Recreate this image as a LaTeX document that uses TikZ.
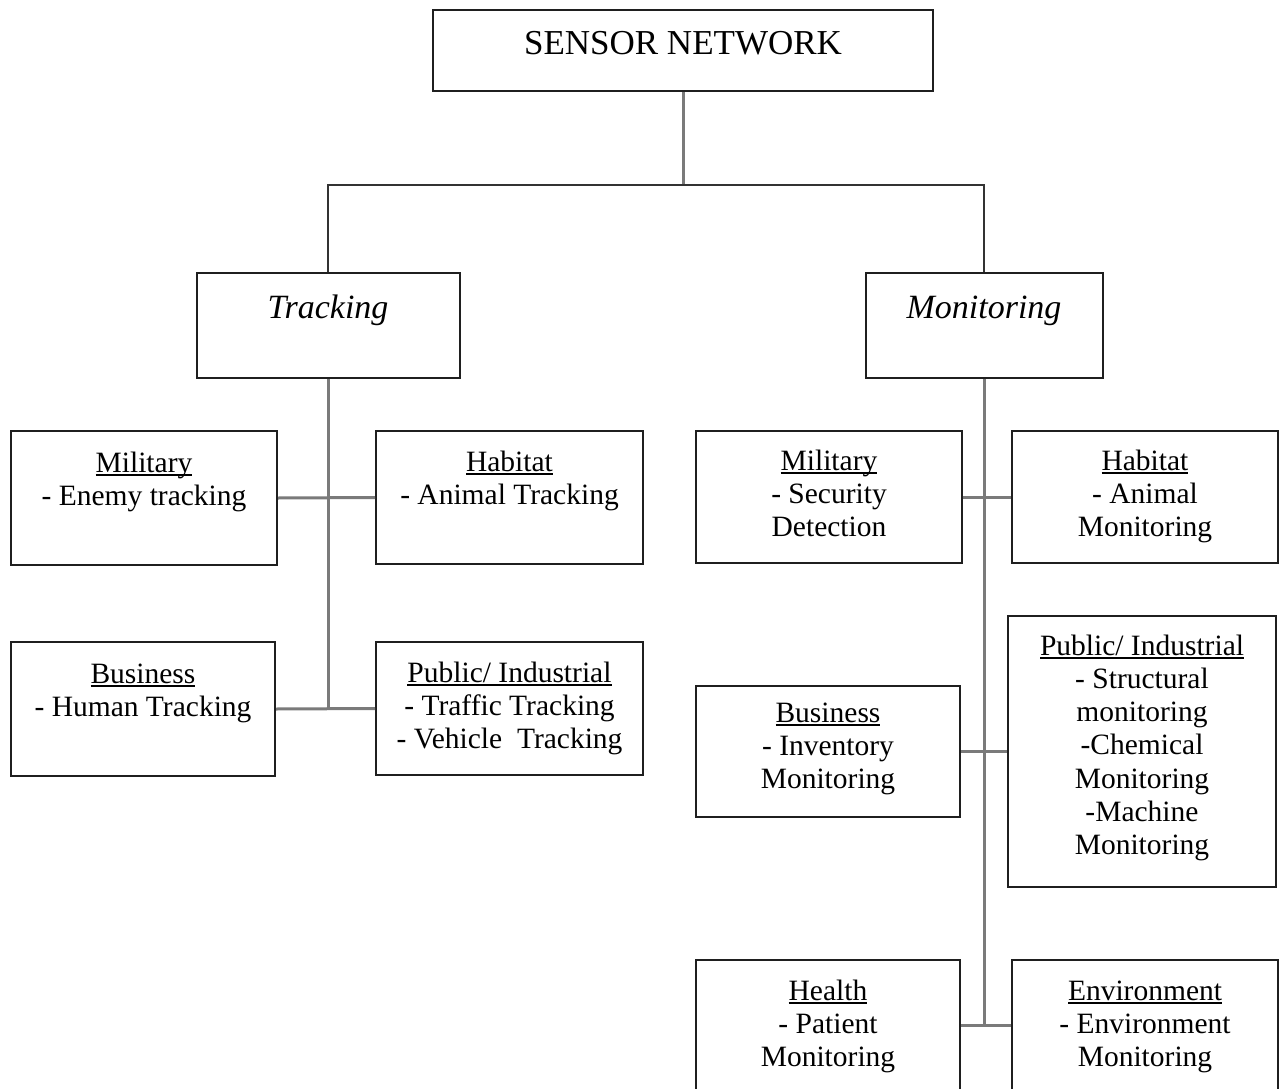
\documentclass[tikz,border=0pt]{standalone}
\usepackage{fontspec}
\setmainfont{Liberation Serif}

% underlined heading with a thin rule just below the baseline
\newcommand\ulhead[1]{\setbox0=\hbox{#1}\rlap{\rule[-3.6pt]{\wd0}{1.8pt}}\box0}
% centred stack of lines whose baseline is the first line's
\newcommand\lines[1]{\begin{tabular}[t]{@{}c@{}}#1\end{tabular}}

\tikzset{
  box/.style={draw=black!88, line width=2pt, inner sep=0pt},
  link/.style={draw=black!52, line width=3pt},
  bar/.style={draw=black!80, line width=2.2pt},
  bodytext/.style={inner sep=0pt, anchor=base, font=\fontsize{29.5}{33.3}\selectfont},
  headtext/.style={inner sep=0pt, anchor=base, font=\fontsize{34}{40}\selectfont\itshape},
}

\begin{document}
\begin{tikzpicture}[x=1pt, y=-1pt]
\clip (0,0) rectangle (1285,1089);
\fill[white] (0,0) rectangle (1285,1089);

% ---- boxes ----
\node[box, minimum width=500, minimum height=81]  (top)  at (683,50.5)   {};
\node[box, minimum width=263, minimum height=105] (trk)  at (328,325.5)  {};
\node[box, minimum width=237, minimum height=105] (mon)  at (984,325.5)  {};

\node[box, minimum width=266, minimum height=134] (tmil) at (144,498)    {};
\node[box, minimum width=267, minimum height=133] (thab) at (509.5,497.5){};
\node[box, minimum width=264, minimum height=134] (tbus) at (143,709)    {};
\node[box, minimum width=267, minimum height=133] (tpub) at (509.5,708.5){};

\node[box, minimum width=266, minimum height=132] (mmil) at (829,497)    {};
\node[box, minimum width=266, minimum height=132] (mhab) at (1145,497)   {};
\node[box, minimum width=264, minimum height=131] (mbus) at (828,751.5)  {};
\node[box, minimum width=268, minimum height=271] (mpub) at (1142,751.5) {};
\node[box, minimum width=264, minimum height=160] (hea)  at (828,1040)   {};
\node[box, minimum width=266, minimum height=160] (env)  at (1145,1040)  {};

% ---- connectors ----
\coordinate (split) at (683,185);
\coordinate (tend)  at (328,709);
\coordinate (mend)  at (984,1025);

\draw[link] (top.south) -- (split);
\draw[bar] (trk.north) |- (split) -| (mon.north);

\draw[link] (trk.south) -- (tend);
\draw[link] (tmil.east) -- (thab.west);
\draw[link] (tbus.east) -- (tpub.west);

\draw[link] (mon.south) -- (mend);
\draw[link] (mmil.east) -- (mhab.west);
\draw[link] (mbus.east) -- (mpub.west);
\draw[link] (mend -| hea.east) -- (mend -| env.west);

% ---- texts ----
\node[inner sep=0pt, anchor=base, font=\fontsize{35}{40}\selectfont] (top-t) at (683,55) {SENSOR NETWORK};
\node[headtext] (trk-t) at (328,318) {Tracking};
\node[headtext] (mon-t) at (984,318) {Monitoring};

\node[bodytext] (tmil-t) at (144,472)   {\lines{\ulhead{Military}\\- Enemy tracking}};
\node[bodytext] (thab-t) at (509.5,471) {\lines{\ulhead{Habitat}\\- Animal Tracking}};
\node[bodytext] (tbus-t) at (143,683)   {\lines{\ulhead{Business}\\- Human Tracking}};
\node[bodytext] (tpub-t) at (509.5,682) {\lines{\ulhead{Public/ Industrial}\\- Traffic Tracking\\- Vehicle\ \ Tracking}};

\node[bodytext] (mmil-t) at (829,470)   {\lines{\ulhead{Military}\\- Security\\Detection}};
\node[bodytext] (mhab-t) at (1145,470)  {\lines{\ulhead{Habitat}\\- Animal\\Monitoring}};
\node[bodytext] (mbus-t) at (828,722)   {\lines{\ulhead{Business}\\- Inventory\\Monitoring}};
\node[bodytext] (mpub-t) at (1142,655)  {\lines{\ulhead{Public/ Industrial}\\- Structural\\monitoring\\-Chemical\\Monitoring\\-Machine\\Monitoring}};
\node[bodytext] (hea-t)  at (828,1000)  {\lines{\ulhead{Health}\\- Patient\\Monitoring}};
\node[bodytext] (env-t)  at (1145,1000) {\lines{\ulhead{Environment}\\- Environment\\Monitoring}};
\end{tikzpicture}
\end{document}
